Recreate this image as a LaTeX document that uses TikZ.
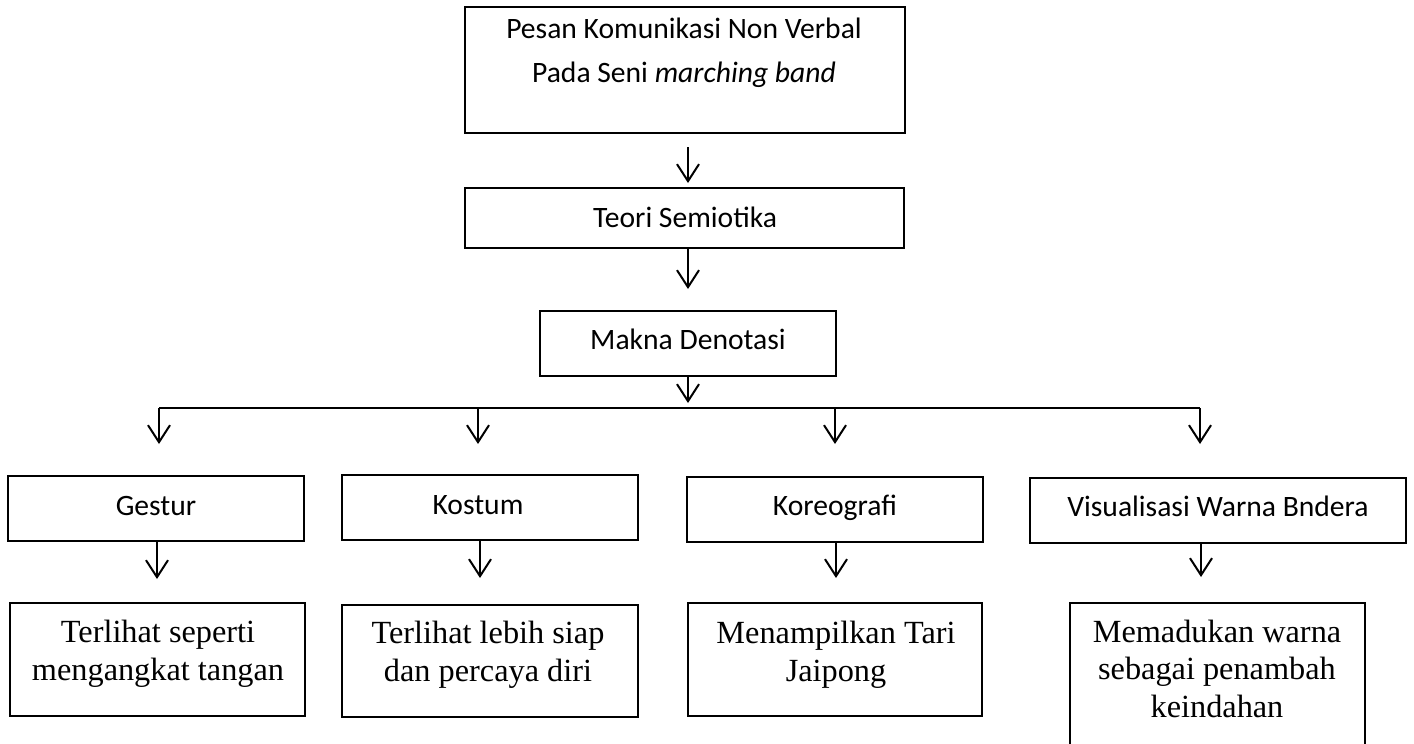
\documentclass[tikz,border=0pt]{standalone}
\usepackage{fontspec}
\setmainfont{Liberation Serif}
\newfontfamily\calfont{Carlito}
\usetikzlibrary{arrows.meta}
\begin{document}
\begin{tikzpicture}[x=1pt,y=-1pt,
  box/.style={draw=black,line width=2pt,minimum width=#1,inner sep=0pt,outer sep=0pt,fill=none},
  sanstext/.style={font=\calfont\fontsize{29.6}{44}\selectfont,anchor=base,align=center,inner sep=0pt},
  seriftext/.style={font=\fontsize{32.3}{37.5}\selectfont,anchor=base,align=center,inner sep=0pt},
  arr/.style={line width=2pt,-{Straight Barb[length=17pt,width=22pt,line width=2pt]}},
  conn/.style={line width=2pt}]
\useasboundingbox (0,0) rectangle (1414,744);
% boxes
\node[box=440pt,minimum height=126pt] (top) at (685,70) {};
\node[box=439pt,minimum height=60pt] (teori) at (684.5,218) {};
\node[box=296pt,minimum height=65pt] (makna) at (688,343.5) {};
\node[box=296pt,minimum height=65pt] (gestur) at (156,508.5) {};
\node[box=296pt,minimum height=65pt] (kostum) at (490,507.5) {};
\node[box=296pt,minimum height=65pt] (koreo) at (835,509.5) {};
\node[box=376pt,minimum height=65pt] (visual) at (1218,510.5) {};
\node[box=295pt,minimum height=113pt] (r1) at (157.5,659.5) {};
\node[box=296pt,minimum height=112pt] (r2) at (490,661) {};
\node[box=294pt,minimum height=113pt] (r3) at (835,659.5) {};
\begin{scope}
\clip (0,0) rectangle (1414,744);
\node[box=295pt,minimum height=150pt] (r4) at (1217.5,678) {};
\end{scope}
% texts (base anchor = baseline of the last line)
\node[sanstext] (ttop) at (684,82) {Pesan Komunikasi Non Verbal\\Pada Seni \textit{marching band}};
\node[sanstext] (tteori) at (685,227) {Teori Semiotika};
\node[sanstext] (tmakna) at (688,349) {Makna Denotasi};
\node[sanstext] (tgestur) at (156,515) {Gestur};
\node[sanstext] (tkostum) at (478,514) {Kostum};
\node[sanstext] (tkoreo) at (835,515) {Koreografi};
\node[sanstext] (tvisual) at (1218,516) {Visualisasi Warna Bndera};
\node[seriftext] (tr1) at (158,680) {Terlihat seperti\\mengangkat tangan};
\node[seriftext] (tr2) at (488,681) {Terlihat lebih siap\\dan percaya diri};
\node[seriftext] (tr3) at (836,681) {Menampilkan Tari\\Jaipong};
\node[seriftext] (tr4) at (1217,717) {Memadukan warna\\sebagai penambah\\keindahan};
% connectors
\coordinate (b1) at (159,408);
\coordinate (b2) at (478,408);
\coordinate (b3) at (835,408);
\coordinate (b4) at (1200,408);
\coordinate (m1) at (688,0);
\draw[arr] ([yshift=-14pt]top.south -| m1) -- ([yshift=5pt]teori.north -| m1);
\draw[arr] (teori.south -| m1) -- ([yshift=22pt]makna.north -| m1);
\draw[arr] (makna.south -| m1) -- ([yshift=5pt]b1 -| m1);
\draw[conn] (b1) -- (b4);
\draw[arr] (b1) -- ([yshift=32pt]gestur.north -| b1);
\draw[arr] (b2) -- ([yshift=31pt]kostum.north -| b2);
\draw[arr] (b3) -- ([yshift=33pt]koreo.north -| b3);
\draw[arr] (b4) -- ([yshift=34pt]visual.north -| b4);
\coordinate (c1) at (157,0);
\coordinate (c2) at (480,0);
\coordinate (c3) at (836,0);
\coordinate (c4) at (1201,0);
\draw[arr] (gestur.south -| c1) -- ([yshift=24pt]r1.north -| c1);
\draw[arr] (kostum.south -| c2) -- ([yshift=27pt]r2.north -| c2);
\draw[arr] (koreo.south -| c3) -- ([yshift=25pt]r3.north -| c3);
\draw[arr] (visual.south -| c4) -- ([yshift=26pt]r4.north -| c4);
\end{tikzpicture}
\end{document}
